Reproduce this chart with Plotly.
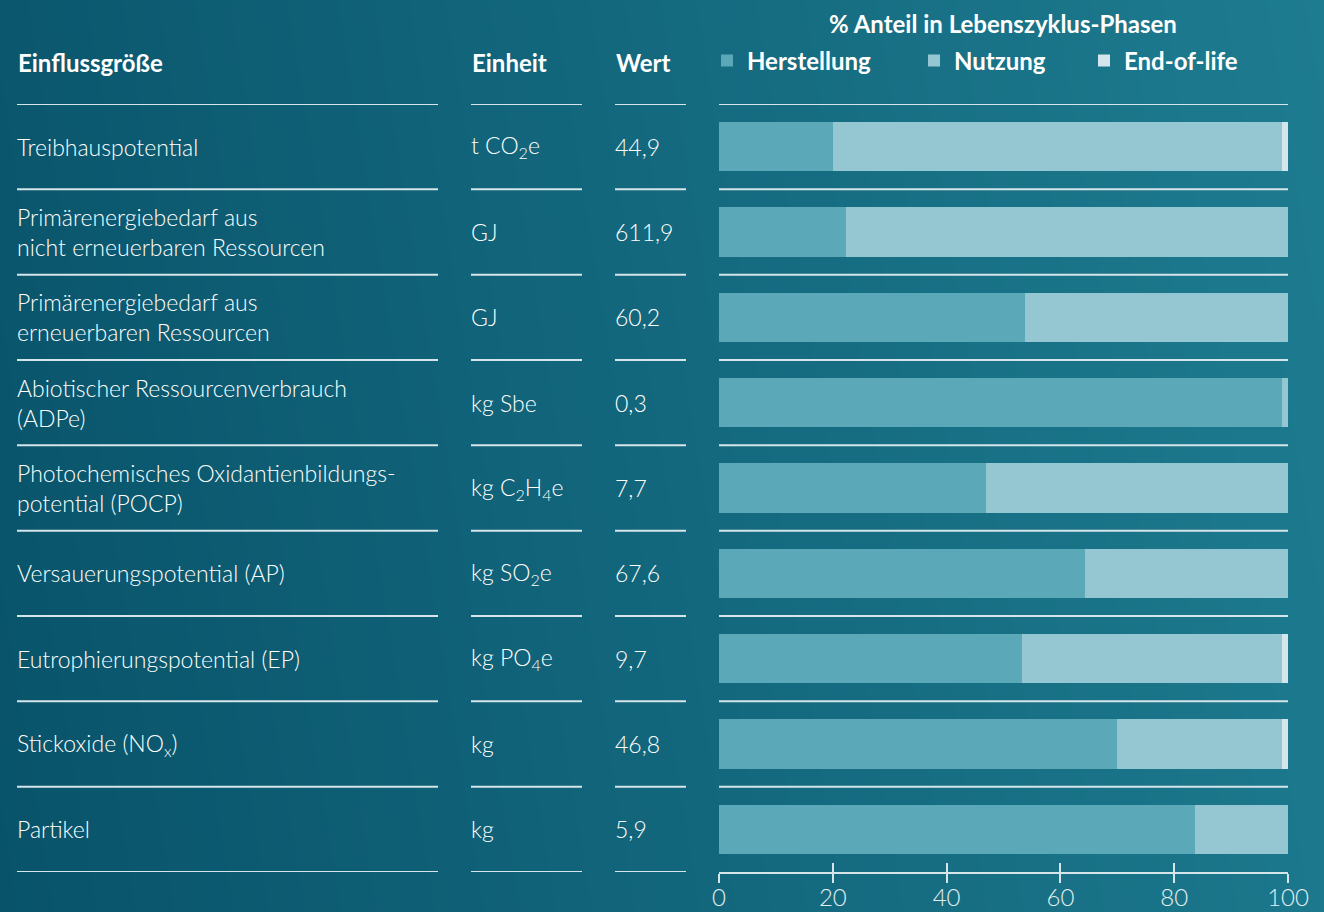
import plotly.graph_objects as go
import numpy as np

# ---------------- data ----------------
labels = [
    "Treibhauspotential",
    "Primärenergiebedarf aus<br>nicht erneuerbaren Ressourcen",
    "Primärenergiebedarf aus<br>erneuerbaren Ressourcen",
    "Abiotischer Ressourcenverbrauch<br>(ADPe)",
    "Photochemisches Oxidantienbildungs-<br>potential (POCP)",
    "Versauerungspotential (AP)",
    "Eutrophierungspotential (EP)",
    "Stickoxide (NO<sub>x</sub>)",
    "Partikel",
]
units = ["t CO<sub>2</sub>e", "GJ", "GJ", "kg Sbe", "kg C<sub>2</sub>H<sub>4</sub>e",
         "kg SO<sub>2</sub>e", "kg PO<sub>4</sub>e", "kg", "kg"]
values = ["44,9", "611,9", "60,2", "0,3", "7,7", "67,6", "9,7", "46,8", "5,9"]

herstellung = [20.1, 22.3, 53.8, 98.9, 47.0, 64.3, 53.3, 69.9, 83.7]
nutzung = [78.8, 77.7, 46.2, 1.1, 53.0, 35.7, 45.6, 29.0, 16.3]
end_of_life = [1.1, 0.0, 0.0, 0.0, 0.0, 0.0, 1.1, 1.1, 0.0]

phase_names = ["Herstellung", "Nutzung", "End-of-life"]
tick_vals = [0, 20, 40, 60, 80, 100]

title_text = "% Anteil in Lebenszyklus-Phasen"
headers = ["Einflussgröße", "Einheit", "Wert"]

# ---------------- style ----------------
W, H = 1324, 912
FONT = "Lato, DejaVu Sans Condensed, sans-serif"
BFONT = "Lato, DejaVu Sans Condensed, sans-serif"
FS = 23
BFS = 24
WHITE = "#ffffff"
LINE = "#d6e5e9"
C_H = "#5ba8b8"
C_N = "#95c7d3"
C_E = "#d3e6eb"

def px(x):
    return x / W

def py(y):
    return 1 - y / H

ydom = [py(872), py(104)]
xdom_bar = [px(719), px(1288)]
rows = list(range(len(labels)))

fig = go.Figure()

# background gradient (heatmap on full-paper axes)
gx = np.linspace(0, 1, 2)
gy = np.linspace(0, 1, 2)
z = [[0.0, 0.9], [0.1, 1.0]]
fig.add_trace(go.Heatmap(
    x=gx, y=gy, z=z, zsmooth="best", showscale=False, hoverinfo="skip",
    colorscale=[[0, "#08536a"], [1, "#1e7c90"]], xaxis="x", yaxis="y",
))

legend_ids = ["legend", "legend2", "legend3"]
for name, vals, col, lg in zip(phase_names, [herstellung, nutzung, end_of_life],
                               [C_H, C_N, C_E], legend_ids):
    fig.add_trace(go.Bar(
        name=name, y=rows, x=vals, orientation="h", width=0.575,
        marker=dict(color=col, line=dict(width=0)), xaxis="x2", yaxis="y2",
        hoverinfo="skip", legend=lg,
    ))
# invisible trace to carry the overlaid tick axis
fig.add_trace(go.Scatter(x=[0, 100], y=[0, 0], mode="markers", marker=dict(opacity=0),
                         xaxis="x3", yaxis="y2", showlegend=False, hoverinfo="skip"))

annotations = []
for i in rows:
    for xx, txt in ((15, labels[i]), (469, units[i]), (613, values[i])):
        annotations.append(dict(x=px(xx), y=i, xref="paper", yref="y2", text=txt,
                                xanchor="left", yanchor="middle", showarrow=False, align="left",
                                font=dict(family=FONT, size=FS, color=WHITE, weight=300)))

for hx, ht in zip([16, 470, 614], headers):
    annotations.append(dict(x=px(hx), y=py(62), xref="paper", yref="paper", text=ht,
                            xanchor="left", yanchor="middle", showarrow=False,
                            font=dict(family=BFONT, size=BFS, color=WHITE, weight="bold")))
annotations.append(dict(x=px(1003), y=py(23), xref="paper", yref="paper", text=title_text,
                        xanchor="center", yanchor="middle", showarrow=False,
                        font=dict(family=BFONT, size=BFS, color=WHITE, weight="bold")))

shapes = []
cols = [(17, 438), (471, 582), (615, 686), (719, 1288)]
for k in range(len(labels) + 1):
    yb = k - 0.5
    for ci, (a, b) in enumerate(cols):
        if ci == 3 and k == len(labels):
            continue
        shapes.append(dict(type="line", xref="paper", yref="y2", x0=px(a), x1=px(b),
                           y0=yb, y1=yb, line=dict(color=LINE, width=2), layer="above"))

def legend_at(x):
    return dict(orientation="h", x=px(x), y=py(61), xanchor="left", yanchor="middle",
                bgcolor="rgba(0,0,0,0)",
                font=dict(family=BFONT, size=BFS, color=WHITE, weight="bold"),
                itemwidth=30)

fig.update_layout(
    width=W, height=H,
    margin=dict(l=0, r=0, t=0, b=0, pad=0, autoexpand=False),
    paper_bgcolor="#0b5a6e", plot_bgcolor="rgba(0,0,0,0)",
    barmode="stack", bargap=0,
    showlegend=True,
    legend=legend_at(707),
    legend2=legend_at(914),
    legend3=legend_at(1084),
    xaxis=dict(domain=[0, 1], range=[0, 1], visible=False, fixedrange=True),
    yaxis=dict(domain=[0, 1], range=[0, 1], visible=False, fixedrange=True),
    xaxis2=dict(domain=xdom_bar, range=[0, 100], anchor="y2", side="bottom",
                showgrid=False, zeroline=False, showline=True, linecolor=LINE, linewidth=2,
                ticks="outside", ticklen=9, tickwidth=2, tickcolor=LINE,
                ticklabelstandoff=-6,
                tickvals=tick_vals, ticktext=[str(v) for v in tick_vals],
                tickfont=dict(family=FONT, size=24, color="#e3eef1", weight=300)),
    xaxis3=dict(domain=xdom_bar, range=[0, 100], anchor="y2", overlaying="x2", side="bottom",
                showgrid=False, zeroline=False, showline=False,
                ticks="inside", ticklen=9, tickwidth=2, tickcolor=LINE,
                tickvals=tick_vals, showticklabels=False),
    yaxis2=dict(domain=ydom, range=[len(labels) - 0.5, -0.5], anchor="x2",
                showgrid=False, zeroline=False, showticklabels=False, showline=False),
    annotations=annotations,
    shapes=shapes,
)

fig.write_html("out.html", config={"displayModeBar": False},
               post_script="document.body.style.margin='0';")
